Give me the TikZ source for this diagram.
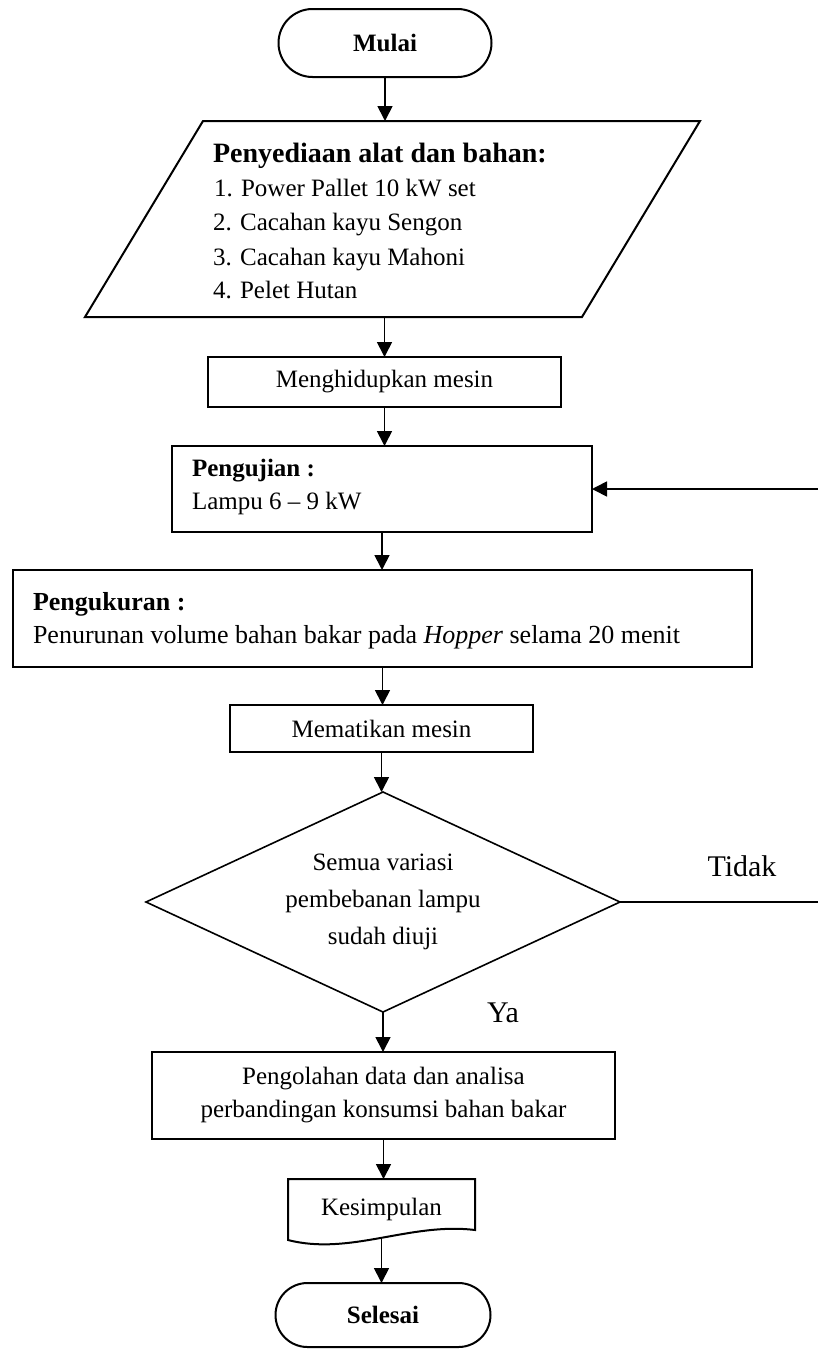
\documentclass[tikz,border=0pt]{standalone}
\usepackage{fontspec}
\setmainfont{Liberation Serif}
\usetikzlibrary{arrows.meta,shapes.geometric}
\begin{document}
\begin{tikzpicture}[x=1pt,y=-1pt,
  every node/.style={inner sep=0pt, outer sep=0pt, font=\fontsize{25}{30}\selectfont},
  boldtxt/.style={font=\fontsize{25}{30}\selectfont\bfseries},
  box/.style={draw, line width=2pt, rectangle},
  term/.style={draw, line width=2pt, rectangle, boldtxt},
  shapeline/.style={line width=2pt, line join=miter},
  arr/.style={line width=1.7pt, -{Triangle[length=15pt,width=15pt]}},
  lbl/.style={font=\fontsize{30}{36}\selectfont}]
\useasboundingbox (0,0) rectangle (817,1349);

% Start
\node[term, rounded corners=34pt, minimum width=213pt, minimum height=68pt] (mulai) at (385,43) {Mulai};

% Input parallelogram
\node[minimum width=615pt, minimum height=196pt] (par) at (392.5,219) {};
\draw[shapeline] ([xshift=118pt]par.north west) -- (par.north east)
  -- ([xshift=-118pt]par.south east) -- (par.south west) -- cycle;
\node[anchor=base west, font=\fontsize{28}{32}\selectfont\bfseries] (p0) at (213,162) {Penyediaan alat dan bahan:};
\node[anchor=base west] (p1) at (214,196) {1. Power Pallet 10 kW set};
\node[anchor=base west] (p2) at (213,230) {2. Cacahan kayu Sengon};
\node[anchor=base west] (p3) at (213,265) {3. Cacahan kayu Mahoni};
\node[anchor=base west] (p4) at (213,298) {4. Pelet Hutan};

% Process boxes
\node[box, minimum width=353pt, minimum height=50pt] (meng) at (384.5,382) {Menghidupkan mesin};

\node[box, minimum width=420pt, minimum height=86pt] (uji) at (382,489) {};
\node[anchor=base west, boldtxt] (ujiA) at (192,476) {Pengujian :};
\node[anchor=base west] (ujiB) at (192,509) {Lampu 6 – 9 kW};

\node[box, minimum width=739pt, minimum height=97pt] (ukur) at (382.5,618.5) {};
\node[anchor=base west, font=\fontsize{26}{30}\selectfont\bfseries] (ukurA) at (33,610) {Pengukuran :};
\node[anchor=base west, font=\fontsize{26}{30}\selectfont] (ukurB) at (33,643) {Penurunan volume bahan bakar pada \textit{Hopper} selama 20 menit};

\node[box, minimum width=303pt, minimum height=47pt] (mati) at (381.5,728.5) {Mematikan mesin};

% Decision
\node[draw, diamond, line width=1.6pt, shape aspect=2.15, minimum width=474pt, minimum height=220pt,
  align=center, font=\fontsize{25}{37}\selectfont] (dia) at (383,902)
  {Semua variasi\\pembebanan lampu\\sudah diuji};
\node[lbl] (tidak) at (742,866) {Tidak};
\node[lbl] (ya) at (503,1013) {Ya};

\node[box, minimum width=463pt, minimum height=87pt, align=center,
  font=\fontsize{25}{33}\selectfont] (olah) at (383.5,1095.5)
  {Pengolahan data dan analisa\\perbandingan konsumsi bahan bakar};

% Document shape
\node[minimum width=187pt, minimum height=61pt] (kes) at (381.5,1209.5) {Kesimpulan};
\draw[shapeline] (kes.south west) -- (kes.north west) -- (kes.north east)
  -- ([yshift=10pt]kes.south east)
  .. controls ([xshift=-65pt,yshift=18pt]kes.south east) and ([xshift=62pt,yshift=-16pt]kes.south west) .. (kes.south west) -- cycle;

% End
\node[term, rounded corners=32pt, minimum width=215pt, minimum height=64pt] (sel) at (383,1315) {Selesai};

% Connectors
\draw[arr] (mulai.south) -- (mulai.south |- par.north);
\draw[arr] (meng.north |- par.south) -- (meng.north);
\draw[arr] (meng.south) -- (meng.south |- uji.north);
\draw[arr] (uji.south) -- (uji.south |- ukur.north);
\draw[arr] (ukur.south) -- (ukur.south |- mati.north);
\draw[arr] (mati.south) -- (mati.south |- dia.north);
\draw[arr] (dia.south) -- (dia.south |- olah.north);
\draw[arr] (olah.south) -- (olah.south |- kes.north);
\draw[arr] ([yshift=2pt]kes.south) -- (kes.south |- sel.north);
\coordinate (loopx) at (824,0);
\draw[arr] (dia.east) -- (dia.east -| loopx) |- (uji.east);
\end{tikzpicture}
\end{document}
